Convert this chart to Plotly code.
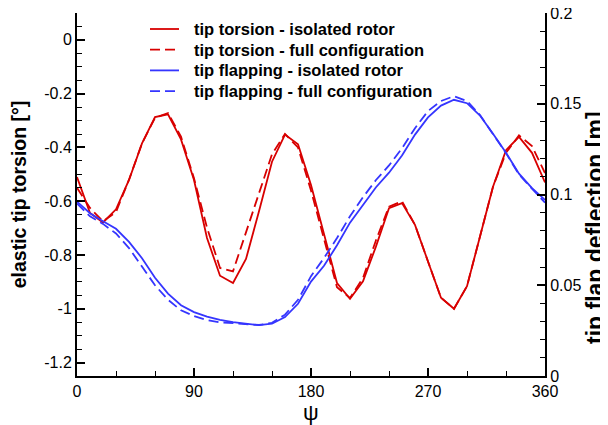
import plotly.graph_objects as go

# azimuth (deg)
psi = [0, 10, 20, 30, 40, 50, 60, 70, 80, 90, 100, 110, 120, 130, 140, 150, 160, 170, 180,
       190, 200, 210, 220, 230, 240, 250, 260, 270, 280, 290, 300, 310, 320, 330, 340, 350, 360]

# elastic tip torsion [deg]
torsion_isolated = [-0.51, -0.644, -0.679, -0.630, -0.521, -0.385, -0.287, -0.277, -0.370, -0.521,
                    -0.737, -0.877, -0.904, -0.815, -0.637, -0.453, -0.352, -0.388, -0.540, -0.719,
                    -0.904, -0.963, -0.898, -0.768, -0.626, -0.607, -0.688, -0.824, -0.959, -1.000,
                    -0.916, -0.731, -0.546, -0.410, -0.361, -0.420, -0.530]
torsion_full = [-0.55, -0.625, -0.675, -0.640, -0.520, -0.385, -0.290, -0.272, -0.360, -0.515,
                -0.698, -0.848, -0.861, -0.716, -0.565, -0.425, -0.350, -0.400, -0.560, -0.740,
                -0.920, -0.960, -0.885, -0.745, -0.620, -0.600, -0.688, -0.824, -0.959, -1.000,
                -0.916, -0.731, -0.546, -0.420, -0.355, -0.395, -0.495]

# tip flap deflection [m]
flap_isolated = [0.0961, 0.0897, 0.0853, 0.0811, 0.0739, 0.0649, 0.0541, 0.0454, 0.0390, 0.0352,
                 0.0327, 0.0309, 0.0297, 0.0288, 0.0280, 0.0288, 0.0325, 0.0398, 0.0520, 0.0607,
                 0.0720, 0.0845, 0.0946, 0.1040, 0.1120, 0.1215, 0.1330, 0.1425, 0.1490, 0.1522,
                 0.1503, 0.1435, 0.1335, 0.1230, 0.1115, 0.1035, 0.0970]
flap_full = [0.0950, 0.0880, 0.0838, 0.0785, 0.0705, 0.0605, 0.0500, 0.0420, 0.0362, 0.0330,
             0.0308, 0.0296, 0.0290, 0.0285, 0.0281, 0.0293, 0.0338, 0.0420, 0.0550, 0.0650,
             0.0760, 0.0880, 0.0985, 0.1080, 0.1160, 0.1255, 0.1365, 0.1460, 0.1515, 0.1542,
             0.1515, 0.1438, 0.1335, 0.1228, 0.1110, 0.1030, 0.0955]

names = ["tip torsion - isolated rotor", "tip torsion - full configuration",
         "tip flapping - isolated rotor", "tip flapping - full configuration"]

x_ticks = [0, 90, 180, 270, 360]
x_ticktext = ["0", "90", "180", "270", "360"]
yl_ticks = [0, -0.2, -0.4, -0.6, -0.8, -1.0, -1.2]
yl_ticktext = ["0", "-0.2", "-0.4", "-0.6", "-0.8", "-1", "-1.2"]
yr_ticks = [0, 0.05, 0.1, 0.15, 0.2]
yr_ticktext = ["0", "0.05", "0.1", "0.15", "0.2"]

RED = "#d80000"
BLUE = "#3535ff"
FONT = "Liberation Sans, Arial, sans-serif"
OFF = 8  # page body margin
W, H = 608 - OFF, 425 - OFF
ML, MR, MT, MB = 77 - OFF, 63, 13 - OFF, 49
PW, PH = W - ML - MR, H - MT - MB


def px_x(px):
    return (px - OFF - ML) / PW


def px_y(py):
    return (H - MB - (py - OFF)) / PH


colors = [RED, RED, BLUE, BLUE]
dashes = ["solid", "10px,5px", "solid", "10px,5px"]
series = [torsion_isolated, torsion_full, flap_isolated, flap_full]
axes = ["y", "y", "y2", "y2"]

fig = go.Figure()
for nm, ys, c, d, ax in zip(names, series, colors, dashes, axes):
    fig.add_trace(go.Scatter(x=psi, y=ys, mode="lines", name=nm, yaxis=ax,
                             line=dict(color=c, width=1.8, dash=d), showlegend=False))

# legend drawn in the upper-left of the plot area (window pixel positions)
shapes, annots = [], []
for k, (nm, c, d) in enumerate(zip(names, colors, dashes)):
    yp = px_y(29 + k * 20.7)
    shapes.append(dict(type="line", xref="paper", yref="paper",
                       x0=px_x(150), x1=px_x(179), y0=yp, y1=yp,
                       line=dict(color=c, width=1.8, dash=d)))
    annots.append(dict(xref="paper", yref="paper", x=px_x(192), y=yp,
                       xanchor="left", yanchor="middle", showarrow=False,
                       text="<b>" + nm + "</b>", font=dict(family=FONT, size=16.5, color="black")))

# x-axis title (psi)
annots.append(dict(xref="paper", yref="paper", x=px_x(311), y=px_y(412),
                   xanchor="center", yanchor="middle", showarrow=False, text="ψ",
                   font=dict(family=FONT, size=22, color="black")))
# right axis title
annots.append(dict(xref="paper", yref="paper", x=px_x(595), y=px_y(228),
                   xanchor="center", yanchor="middle", showarrow=False, textangle=-90,
                   text="<b>tip flap deflection [m]</b>",
                   font=dict(family=FONT, size=23, color="black")))

axis_common = dict(showgrid=False, zeroline=False, showline=True, linecolor="black", linewidth=2,
                   ticks="inside", ticklen=8, tickwidth=1.5, tickcolor="black", automargin=False,
                   ticklabeloverflow="allow",
                   tickfont=dict(family=FONT, size=16, color="black"))

fig.update_layout(
    width=W, height=H,
    margin=dict(l=ML, r=MR, t=MT, b=MB),
    paper_bgcolor="white", plot_bgcolor="white",
    font=dict(family=FONT, color="black"),
    showlegend=False,
    shapes=shapes, annotations=annots,
    xaxis=dict(range=[0, 360], tickvals=x_ticks, ticktext=x_ticktext,
               minor=dict(dtick=30, ticks="inside", ticklen=5, tickcolor="black", tickwidth=1.2),
               **axis_common),
    yaxis=dict(range=[-1.25, 0.1], tickvals=yl_ticks, ticktext=yl_ticktext,
               minor=dict(dtick=0.05, tick0=0, ticks="inside", ticklen=5, tickcolor="black", tickwidth=1.2),
               title=dict(text="<b>elastic tip torsion [°]</b>", font=dict(family=FONT, size=19.5), standoff=12),
               **axis_common),
    yaxis2=dict(range=[0, 0.2], tickvals=yr_ticks, ticktext=yr_ticktext, overlaying="y", side="right",
                minor=dict(dtick=0.01, tick0=0, ticks="inside", ticklen=5, tickcolor="black", tickwidth=1.2),
                **axis_common),
)

fig.write_html("out.html")
